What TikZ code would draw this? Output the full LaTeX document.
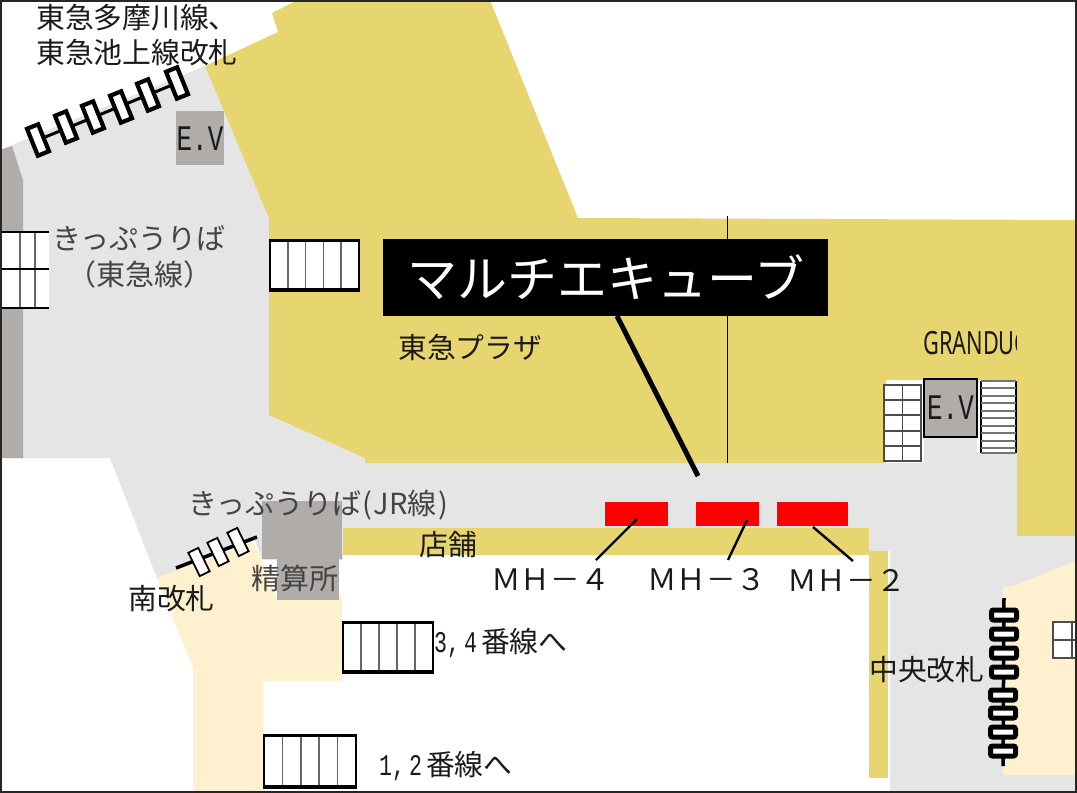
\documentclass[tikz,border=0pt]{standalone}
\usepackage{fontspec}
\setmainfont{Noto Sans CJK JP}
\newfontfamily\cond[FakeStretch=0.72]{Liberation Mono}
\newfontfamily\condb[FakeStretch=0.68]{Noto Sans}
\definecolor{yel}{HTML}{E7D66F}
\definecolor{lgray}{HTML}{E5E5E5}
\definecolor{dgray}{HTML}{B0ACAA}
\definecolor{cream}{HTML}{FFF1D0}
\definecolor{txt}{HTML}{444444}
\definecolor{txtb}{HTML}{1A1A1A}
\tikzset{
 lab/.style={anchor=west,inner sep=0pt,font=\fontsize{#1}{#1}\selectfont,text=txtb},
 lab/.default=28.8,
 glab/.style={anchor=west,inner sep=0pt,font=\fontsize{29}{29}\selectfont,text=txt},
 redbar/.style={fill=red,draw=none},
 stair/.style={fill=white,draw=none},
 thin/.style={line width=1.6pt,draw=black!60},
 ltick/.style={line width=2.4pt,black},
}
\begin{document}
\begin{tikzpicture}[x=1pt,y=-1pt]
\useasboundingbox (0,0) rectangle (1077,793);
\fill[white] (0,0) rectangle (1077,793);
% gray concourse
\fill[lgray] (0,150) -- (205,66) -- (300,200) -- (400,400) -- (400,463) -- (1017,463) -- (1017,536) -- (1077,536) -- (1077,793) -- (890,793) -- (890,551) -- (869,551) -- (869,528) -- (343,528) -- (343,560) -- (262,560) -- (255,540) -- (157,578) -- (110,458) -- (0,458) -- cycle;
% yellow
\fill[yel] (298,0) -- (272,13) -- (278,32) -- (205,66) -- (269,218) -- (269,415) -- (365,458) -- (365,463) -- (886,463) -- (886,380) -- (1017,380) -- (1017,536) -- (1077,536) -- (1077,220) -- (578,218) -- (490,0) -- cycle;
\fill[lgray] (924,420) rectangle (977,463);
\fill[lgray] (977,452) rectangle (1017,463);
\fill[yel] (343,528) rectangle (869,555);
\fill[yel] (869,551) rectangle (888,778);
% cream
\fill[cream] (157,578) -- (253,542) -- (262,560) -- (277,600) -- (342,595) -- (342,681) -- (265,681) -- (263,683) -- (263,793) -- (193,793) -- (193,668) -- cycle;
\fill[cream] (1003,587) -- (1013,586) -- (1077,560) -- (1077,775) -- (1003,775) -- cycle;
% dark grey
\fill[dgray] (0,150) -- (12,146) -- (23,180) -- (23,458) -- (0,458) -- cycle;
\fill[dgray] (176,111) rectangle (224,165);
\fill[dgray] (262,501) rectangle (342,559);
\fill[dgray] (277,559) rectangle (339,600);
% thin divider
\draw[line width=0.8pt,black] (727,216) -- (727,463);
% red
\fill[redbar] (605,502) rectangle (668,526);
\fill[redbar] (696,502) rectangle (759,526);
\fill[redbar] (777,502) rectangle (848,526);
\draw[ltick] (637,519) -- (596,560);
\draw[ltick] (747,520) -- (728,560);
\draw[ltick] (813,527) -- (853,561);
% callout
\node[fill=black,minimum width=445pt,minimum height=77pt,inner sep=0pt,text=white,font=\fontsize{50}{50}\selectfont] (title) at (605.5,277.5) {マルチエキューブ};
\coordinate (titlefoot) at (617,316);
\coordinate (mark) at (698,476);
\draw[line width=5pt,black] (titlefoot) -- (mark);
% stairs
\foreach \xa/\ya/\xb/\yb/\n in {270/240/359/290/5,343/622/433/672/5,264/735/356/787/5}{
 \fill[stair] (\xa,\ya) rectangle (\xb,\yb);
 \pgfmathsetmacro\dx{(\xb-\xa)/\n}
 \foreach \i in {1,...,4}{\draw[thin] ({\xa+\i*\dx},\ya) -- ({\xa+\i*\dx},\yb);}
 \draw[line width=2pt,black] (\xa,\ya) -- (\xa,\yb);
 \draw[line width=2pt,black] (\xb,\ya) -- (\xb,\yb);
 \draw[line width=3pt,black] (\xa-1,\ya) -- (\xb+1,\ya);
 \draw[line width=3.5pt,black] (\xa-1,\yb) -- (\xb+1,\yb);
}
% left stairs
\fill[stair] (2,232) rectangle (49,308);
\foreach \x in {20,35}{\draw[thin] (\x,232) -- (\x,308);}
\draw[line width=2pt,black] (0,232) -- (49,232);
\draw[line width=2.5pt,black] (0,269) -- (49,269);
\draw[line width=2.5pt,black] (0,308) -- (49,308);
% EV right
\draw[fill=white,line width=1.3pt,draw=black!70] (884,385) rectangle (921,461);
\draw[line width=1.3pt,draw=black!70] (902.5,385) -- (902.5,461);
\foreach \y in {400,415,431,446}{\draw[line width=1.3pt,draw=black!70] (884,\y) -- (921,\y);}
\fill[white] (981,381) rectangle (1016,453);
\draw[line width=2pt,black] (981,381) -- (981,453);
\draw[line width=2pt,black] (1016,381) -- (1016,453);
\foreach \y in {381,388,396,403,411,418,426,433,441,448,453}{\draw[line width=1.1pt,draw=black!55] (981,\y) -- (1016,\y);}
\node[draw=black,fill=dgray,line width=2pt,minimum width=53pt,minimum height=58pt,inner sep=0pt,font=\cond\fontsize{36}{36}\selectfont,text=txtb] (ev2) at (950.5,408) {E.V};
\node[inner sep=0pt,font=\cond\fontsize{36}{36}\selectfont,text=txtb] (ev1) at (200,139) {E.V};
% small stairs right
\draw[fill=white,line width=1.3pt,draw=black!70] (1053,622) rectangle (1080,658);
\draw[line width=1.3pt,draw=black!70] (1053,640) -- (1077,640);
\draw[line width=1.3pt,draw=black!70] (1072,622) -- (1072,658);
% top gate
\coordinate (t0) at (38,140); \coordinate (t5) at (177,83);
\draw[line width=3pt,black] (t0) -- (t5);
\foreach \x/\y in {38/140,66/127,93/117,121/107,148/95,177/83}{
  \begin{scope}[shift={(\x,\y)},rotate=22]
   \draw[draw=black,fill=white,line width=4.2pt] (-6,-14.5) rectangle (6,14.5);
  \end{scope}
}
% south gate
\coordinate (s0) at (176,568); \coordinate (s1) at (257,537);
\draw[line width=3.5pt,black] (s0) -- (s1);
\foreach \x/\y in {199/562,218/552,238/542}{
  \begin{scope}[shift={(\x,\y)},rotate=26]
   \draw[draw=black,fill=white,line width=1.8pt] (-5.5,-13) rectangle (5.5,13);
  \end{scope}
}
% central gate
\coordinate (c0) at (1004,598); \coordinate (c1) at (1003,766);
\draw[line width=3.5pt,black] (c0) -- (c1);
\foreach \x/\y/\n in {1004/615/a,1004/634/b,1004/653/c,1004/672/d,1003/695/e,1003/713/f,1003/732/g,1003/751/h}
  \node[draw=black,fill=white,rectangle,rounded corners=2pt,inner sep=0pt,line width=5pt,minimum width=25pt,minimum height=10pt] (c\n) at (\x,\y) {};
% texts
\node[lab] (t1) at (36,18) {東急多摩川線、};
\node[lab] (t2) at (36,53) {東急池上線改札};
\node[glab] (t3) at (52,238) {きっぷうりば};
\node[glab,anchor=center] (t4) at (140,274) {（東急線）};
\node[lab] (t5l) at (398,348) {東急プラザ};
\begin{scope}
\clip (900,320) rectangle (1016,370);
\node[anchor=west,inner sep=0pt,font=\condb\fontsize{32}{32}\selectfont,text=txtb] (t6) at (923,343) {GRANDUC};
\end{scope}
\node[glab] (t7) at (188,505) {きっぷうりば\kern1pt(\kern2pt JR線\kern2pt)};
\node[lab] (t8) at (419,545) {店舗};
\node[lab] (t9) at (128,599) {南改札};
\node[glab] (t10) at (251,578) {精算所};
\node[lab=29.6] (t11) at (491,580) {ＭＨ－４};
\node[lab=29.6] (t12) at (647,580) {ＭＨ－３};
\node[lab=29.6] (t13) at (787,580) {ＭＨ－２};
\node[lab] (t14) at (434,643) {{\cond\fontsize{30}{30}\selectfont 3,\kern4pt 4}\kern4pt 番線へ};
\node[lab] (t15) at (379,766) {{\cond\fontsize{30}{30}\selectfont 1,\kern4pt 2}\kern4pt 番線へ};
\node[lab] (t16) at (869,670) {中央改札};
% frame
\draw[line width=2pt,black!85] (1,1) rectangle (1076,792);
\end{tikzpicture}
\end{document}
